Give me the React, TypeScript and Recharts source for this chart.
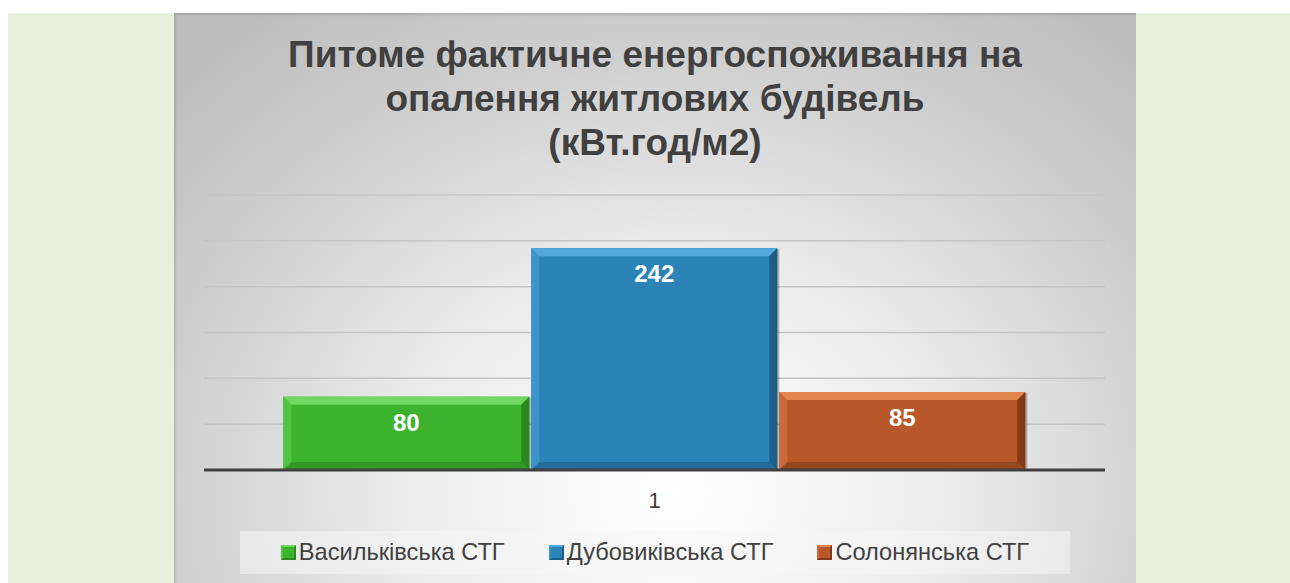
import React from 'react';
import { BarChart, Bar, XAxis, YAxis, CartesianGrid, Legend, LabelList } from 'recharts';

const categories = ['1'];
const seriesNames = ['Васильківська СТГ', 'Дубовиківська СТГ', 'Солонянська СТГ'];
const vasylkivska = [80];
const dubovykivska = [242];
const solonianska = [85];
const yTicks = [0, 50, 100, 150, 200, 250, 300];
const titleLines = ['Питоме фактичне енергоспоживання на', 'опалення житлових будівель', '(кВт.год/м2)'];

const palette = [
  { main: '#3db22f', light: '#6fd860', side: '#52c443', dark: '#2a8a20' },
  { main: '#2c83b8', light: '#52a9de', side: '#3b95cb', dark: '#1d5e87' },
  { main: '#b8572a', light: '#e2874f', side: '#c96a3a', dark: '#823a18' },
];

const data = categories.map((c, i) => ({
  name: c,
  s0: vasylkivska[i],
  s1: dubovykivska[i],
  s2: solonianska[i],
}));

const makeShape = (idx: number) => (props: any) => {
  const { x, y, width, height } = props;
  const p = palette[idx];
  const b = 8;
  return (
    <g>
      <rect x={x + 2} y={y + 1} width={width} height={height} fill="rgba(0,0,0,0.25)" />
      <rect x={x} y={y} width={width} height={height} fill={p.main} />
      <polygon points={`${x},${y} ${x + width},${y} ${x + width - b},${y + b} ${x + b},${y + b}`} fill={p.light} />
      <polygon points={`${x},${y} ${x + b},${y + b} ${x + b},${y + height - b} ${x},${y + height}`} fill={p.side} />
      <polygon points={`${x + width},${y} ${x + width},${y + height} ${x + width - b},${y + height - b} ${x + width - b},${y + b}`} fill={p.dark} />
      <polygon points={`${x},${y + height} ${x + b},${y + height - b} ${x + width - b},${y + height - b} ${x + width},${y + height}`} fill={p.dark} opacity={0.6} />
    </g>
  );
};

const renderLegend = (props: any) => {
  const { payload } = props;
  return (
    <div
      style={{
        width: 830,
        height: 43,
        background: 'rgba(245,245,245,0.55)',
        display: 'flex',
        alignItems: 'center',
        justifyContent: 'center',
        gap: 44,
        fontFamily: '"Liberation Sans", Arial, sans-serif',
        fontSize: 23.6,
        color: '#404040',
      }}
    >
      {(payload || []).map((entry: any, i: number) => {
        const p = palette[i];
        return (
          <div key={i} style={{ display: 'flex', alignItems: 'center' }}>
            <span
              style={{
                display: 'inline-block',
                width: 11,
                height: 11,
                background: p.main,
                border: `2px solid ${p.dark}`,
                borderTopColor: p.light,
                borderLeftColor: p.side,
                marginRight: 3,
              }}
            />
            <span>{entry.value}</span>
          </div>
        );
      })}
    </div>
  );
};

export default function App() {
  return (
    <div
      style={{
        position: 'fixed',
        left: 8,
        top: 13,
        width: 1282,
        height: 570,
        background: '#e8f0dc',
      }}
    >
      <div
        style={{
          position: 'absolute',
          left: 166,
          top: 0,
          width: 962,
          height: 570,
          background: 'radial-gradient(ellipse 72% 105% at 52% 84%, #ffffff 0%, #ececec 38%, #d0d0d0 72%, #bdbdbd 100%)',
          boxShadow: 'inset 2px 2px 2px rgba(0,0,0,0.12)',
          overflow: 'hidden',
        }}
      >
        <div
          style={{
            position: 'absolute',
            left: 0,
            top: 20,
            width: 962,
            textAlign: 'center',
            fontFamily: '"Liberation Sans", Arial, sans-serif',
            fontWeight: 'bold',
            fontSize: 37,
            lineHeight: '44px',
            color: '#404040',
          }}
        >
          {titleLines.map((l, i) => (
            <div key={i}>{l}</div>
          ))}
        </div>
        <div style={{ position: 'absolute', left: 0, top: 0 }}>
          <BarChart
            width={962}
            height={570}
            data={data}
            margin={{ top: 182, right: 31, left: 30, bottom: 9 }}
            barCategoryGap="8.8%"
            barGap={2}
          >
            <CartesianGrid horizontal vertical={false} stroke="#c4c4c4" strokeWidth={1.5} />
            <YAxis hide domain={[0, 300]} ticks={yTicks} />
            <XAxis
              dataKey="name"
              height={61}
              tickLine={false}
              tickMargin={16}
              axisLine={{ stroke: '#404040', strokeWidth: 3 }}
              tick={{ fill: '#404040', fontSize: 22, fontFamily: '"Liberation Sans", Arial, sans-serif' }}
            />
            <Legend
              verticalAlign="bottom"
              content={renderLegend}
              wrapperStyle={{ left: 66, width: 830, height: 43, bottom: 9 }}
            />
            {['s0', 's1', 's2'].map((k, i) => (
              <Bar key={k} dataKey={k} name={seriesNames[i]} fill={palette[i].main} shape={makeShape(i)} isAnimationActive={false}>
                <LabelList
                  dataKey={k}
                  position="insideTop"
                  offset={17}
                  fill="#ffffff"
                  fontSize={24}
                  fontWeight="bold"
                  fontFamily='"Liberation Sans", Arial, sans-serif'
                />
              </Bar>
            ))}
          </BarChart>
        </div>
      </div>
    </div>
  );
}
